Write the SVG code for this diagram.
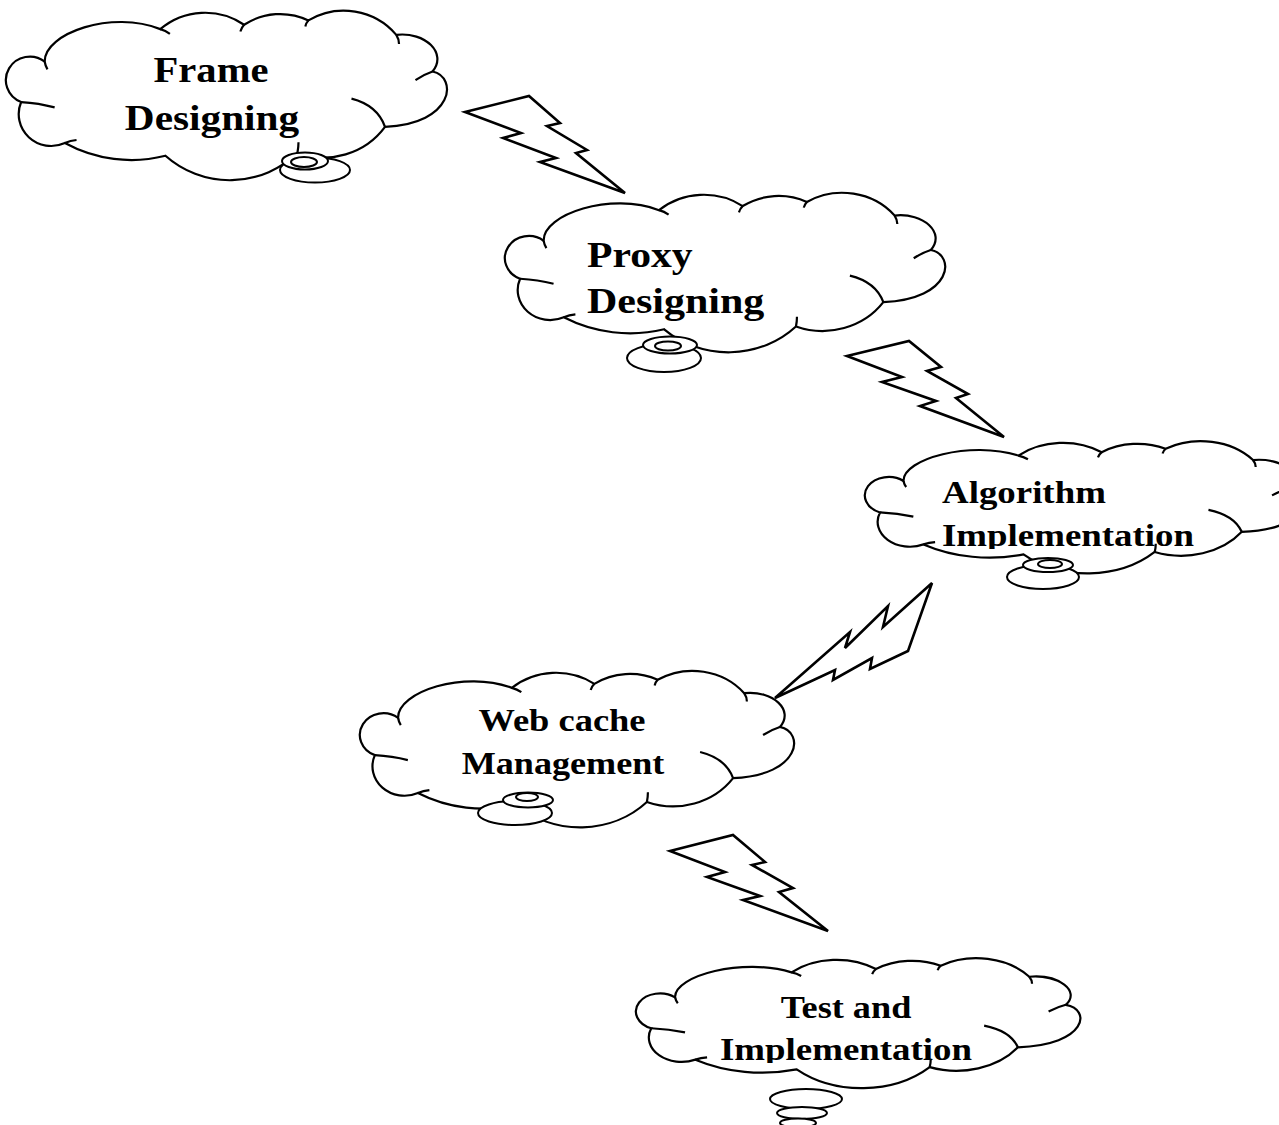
<svg xmlns="http://www.w3.org/2000/svg" xmlns:xlink="http://www.w3.org/1999/xlink" width="1279" height="1125" viewBox="0 0 1279 1125">
  <style>
    .cloud { fill: #fff; stroke: #000; stroke-width: 2.2; }
    .crease { fill: none; stroke: #000; stroke-width: 2.2; }
    .bub { fill: #fff; stroke: #000; stroke-width: 2; }
    .bolt { fill: #fff; stroke: #000; stroke-width: 2.6; stroke-linejoin: miter; }
    .lbl { font-family: "Liberation Serif", "Times New Roman", serif; font-weight: bold; fill: #000; }
  </style>
  <defs>
    <!-- cloud outline in a local box about 1295 x 497 -->
    <path id="cloud-outline" vector-effect="non-scaling-stroke" d="M53,265 A70,70 0 1 1 122,145 C120,60 320,-10 460,48 A200,200 0 0 1 705,35 A190,190 0 0 1 893,22 A200,200 0 0 1 1150,65 C1235,55 1300,120 1256,174 C1330,190 1320,330 1117,339 A220,220 0 0 1 861,416 A280,280 0 0 1 475,425 A400,400 0 0 1 181,387 A95,95 0 0 1 53,265 Z"/>
    <!-- inner fold lines of the cloud -->
    <path id="cloud-creases" vector-effect="non-scaling-stroke" d="M53,265 Q105,268 151,281 M122,145 Q124,158 130,168 M460,48 Q475,52 488,62 M705,35 Q697,44 694,55 M893,22 Q886,30 884,40 M1150,65 Q1158,78 1158,92 M1256,174 Q1232,182 1206,200 M1019,255 Q1095,275 1117,339 M861,416 Q864,400 864,385 M181,387 Q197,380 215,378"/>
    <clipPath id="clip-impl-1"><rect x="900" y="500" width="379" height="49"/></clipPath>
    <clipPath id="clip-impl-2"><rect x="700" y="1020" width="300" height="43"/></clipPath>
  </defs>

  <!-- lightning-bolt connectors -->
  <g id="connectors">
    <polygon class="bolt" points="465,112 529,96 560,123 547,126 587,150 576,153 625,193 540,162 556,158 503,138 521,133"/>
    <polygon class="bolt" points="847,356 909,341 941,367 927,371 968,394 956,398 1004,437 920,406 936,401 882,382 902,377"/>
    <polygon class="bolt" points="932,583 908,651 870,669 872,658 833,680 835,670 775,698 850,632 845,648 888,606 883,627"/>
    <polygon class="bolt" points="670,851 733,835 765,862 752,865 793,888 779,892 828,931 743,900 760,896 707,877 725,872"/>
  </g>

  <g id="node-frame-designing">
    <g transform="translate(3,13) scale(0.342,0.336)">
      <use xlink:href="#cloud-outline" class="cloud"/>
      <use xlink:href="#cloud-creases" class="crease"/>
    </g>
    <ellipse class="bub" cx="315" cy="170" rx="35" ry="12.5"/>
    <ellipse class="bub" cx="305" cy="161" rx="23" ry="8.5"/>
    <ellipse class="bub" cx="304" cy="162" rx="13" ry="5"/>
    <text class="lbl" font-size="35" text-anchor="middle" transform="translate(211,82) scale(1.16,1)">Frame</text>
    <text class="lbl" font-size="35" text-anchor="middle" transform="translate(212,130) scale(1.18,1)">Designing</text>
  </g>

  <g id="node-proxy-designing">
    <g transform="translate(502,195) scale(0.3414,0.316)">
      <use xlink:href="#cloud-outline" class="cloud"/>
      <use xlink:href="#cloud-creases" class="crease"/>
    </g>
    <ellipse class="bub" cx="664" cy="358" rx="37" ry="14"/>
    <ellipse class="bub" cx="670" cy="345" rx="27" ry="8.5"/>
    <ellipse class="bub" cx="668" cy="346" rx="13" ry="4.5"/>
    <text class="lbl" font-size="35" transform="translate(587,267) scale(1.19,1)">Proxy</text>
    <text class="lbl" font-size="35" transform="translate(587,313) scale(1.2,1)">Designing</text>
  </g>

  <g id="node-algorithm-implementation">
    <g transform="translate(862,443) scale(0.34,0.262)">
      <use xlink:href="#cloud-outline" class="cloud"/>
      <use xlink:href="#cloud-creases" class="crease"/>
    </g>
    <ellipse class="bub" cx="1043" cy="577" rx="36" ry="12"/>
    <ellipse class="bub" cx="1048" cy="565" rx="25" ry="7"/>
    <ellipse class="bub" cx="1050" cy="564" rx="12" ry="4"/>
    <text class="lbl" font-size="31" transform="translate(942,503) scale(1.19,1)">Algorithm</text>
    <g clip-path="url(#clip-impl-1)">
      <text class="lbl" font-size="31" transform="translate(942,546) scale(1.19,1)">Implementation</text>
    </g>
  </g>

  <g id="node-web-cache-management">
    <g transform="translate(357,673) scale(0.3367,0.31)">
      <use xlink:href="#cloud-outline" class="cloud"/>
      <use xlink:href="#cloud-creases" class="crease"/>
    </g>
    <ellipse class="bub" cx="515" cy="813" rx="37" ry="12"/>
    <ellipse class="bub" cx="528" cy="800" rx="25" ry="7.5"/>
    <ellipse class="bub" cx="527" cy="797" rx="11" ry="4"/>
    <text class="lbl" font-size="32" text-anchor="middle" transform="translate(562,731) scale(1.14,1)">Web cache</text>
    <text class="lbl" font-size="32" text-anchor="middle" transform="translate(563,774) scale(1.13,1)">Management</text>
  </g>

  <g id="node-test-and-implementation">
    <g transform="translate(633,960) scale(0.3446,0.2575)">
      <use xlink:href="#cloud-outline" class="cloud"/>
      <use xlink:href="#cloud-creases" class="crease"/>
    </g>
    <ellipse class="bub" cx="806" cy="1099" rx="36" ry="10"/>
    <ellipse class="bub" cx="802" cy="1113" rx="25" ry="6"/>
    <ellipse class="bub" cx="798" cy="1123" rx="18" ry="4.5"/>
    <text class="lbl" font-size="31" text-anchor="middle" transform="translate(846,1018) scale(1.17,1)">Test and</text>
    <g clip-path="url(#clip-impl-2)">
      <text class="lbl" font-size="31" text-anchor="middle" transform="translate(846,1060) scale(1.19,1)">Implementation</text>
    </g>
  </g>
</svg>
